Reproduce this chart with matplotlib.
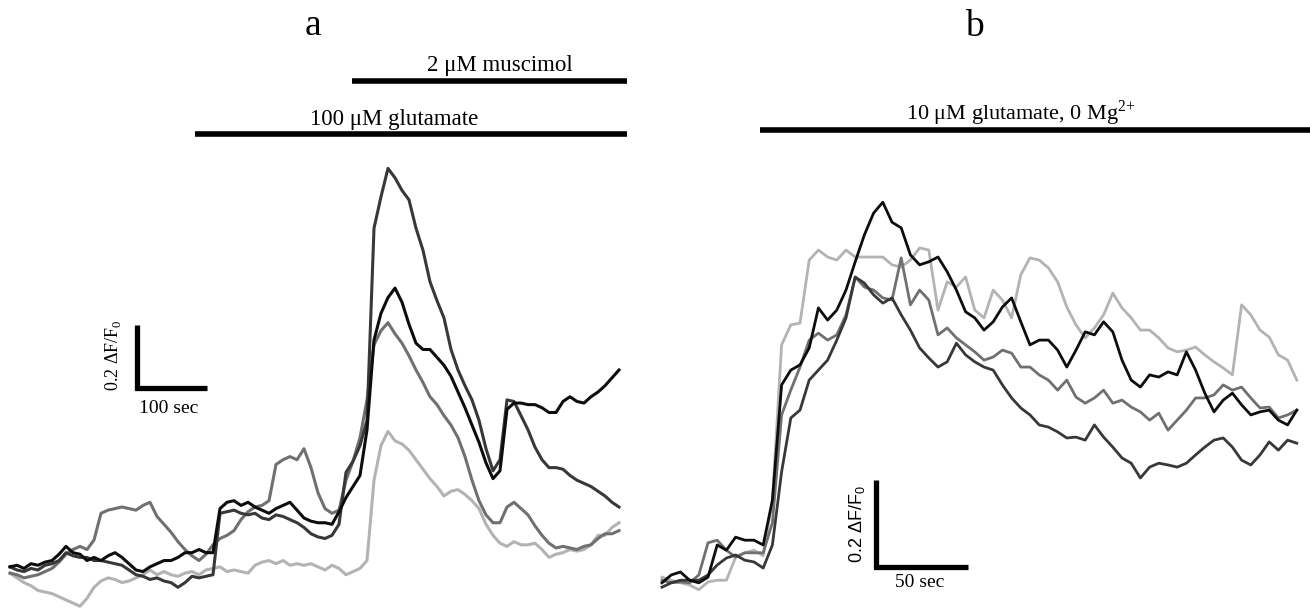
import matplotlib
matplotlib.use("Agg")
import matplotlib.pyplot as plt
import numpy as np

DT_A = 10.0
DT_B = 5.0

# panel a: dF/F0 traces, 100 uM glutamate then 2 uM muscimol
a_light = [-0.01, -0.025, -0.04, -0.05, -0.065, -0.07, -0.075, -0.085, -0.095, -0.105,
           -0.115, -0.09, -0.055, -0.035, -0.025, -0.03, -0.04, -0.035, -0.025, -0.015,
           0.0, -0.015, -0.005, -0.015, -0.02, -0.01, -0.005, -0.015, 0.0, 0.005,
           0.01, -0.005, 0.0, -0.005, -0.01, 0.015, 0.025, 0.03, 0.02, 0.03,
           0.015, 0.02, 0.015, 0.02, 0.01, 0.0, 0.015, 0.005, -0.015, -0.005,
           0.005, 0.03, 0.285, 0.395, 0.44, 0.41, 0.40, 0.38, 0.35, 0.32,
           0.29, 0.265, 0.235, 0.25, 0.255, 0.24, 0.22, 0.195, 0.145, 0.11,
           0.085, 0.075, 0.09, 0.08, 0.08, 0.085, 0.065, 0.04, 0.05, 0.055,
           0.065, 0.06, 0.065, 0.08, 0.11, 0.11, 0.135, 0.15]
a_mid = [-0.01, -0.015, -0.025, -0.02, -0.015, -0.005, 0.005, 0.025, 0.05, 0.065,
         0.075, 0.065, 0.095, 0.18, 0.19, 0.195, 0.20, 0.195, 0.19, 0.205,
         0.215, 0.17, 0.145, 0.12, 0.09, 0.065, 0.045, 0.03, 0.05, 0.08,
         0.10, 0.11, 0.125, 0.16, 0.185, 0.20, 0.205, 0.22, 0.335, 0.35,
         0.36, 0.35, 0.385, 0.325, 0.245, 0.195, 0.18, 0.19, 0.285, 0.345,
         0.42, 0.54, 0.715, 0.76, 0.785, 0.75, 0.72, 0.68, 0.635, 0.595,
         0.55, 0.525, 0.49, 0.46, 0.42, 0.36, 0.285, 0.22, 0.175, 0.15,
         0.15, 0.20, 0.215, 0.195, 0.175, 0.14, 0.11, 0.085, 0.07, 0.075,
         0.07, 0.065, 0.075, 0.08, 0.10, 0.115, 0.115, 0.125]
a_dark = [0.01, 0.0, -0.005, 0.005, 0.0, 0.015, 0.02, 0.03, 0.055, 0.045,
          0.04, 0.04, 0.03, 0.03, 0.025, 0.02, 0.015, 0.0, -0.015, -0.02,
          -0.03, -0.025, -0.035, -0.04, -0.055, -0.04, -0.02, -0.025, -0.02, -0.015,
          0.18, 0.185, 0.19, 0.18, 0.175, 0.18, 0.165, 0.16, 0.175, 0.17,
          0.16, 0.15, 0.135, 0.115, 0.105, 0.10, 0.11, 0.145, 0.31, 0.345,
          0.395, 0.475, 1.085, 1.185, 1.275, 1.245, 1.205, 1.175, 1.085, 1.015,
          0.915, 0.855, 0.80, 0.70, 0.635, 0.585, 0.54, 0.475, 0.385, 0.315,
          0.35, 0.54, 0.535, 0.49, 0.445, 0.39, 0.35, 0.325, 0.325, 0.32,
          0.30, 0.285, 0.275, 0.265, 0.25, 0.235, 0.215, 0.20]
a_black = [0.01, 0.015, 0.005, 0.02, 0.015, 0.025, 0.03, 0.05, 0.075, 0.055,
           0.05, 0.03, 0.04, 0.03, 0.045, 0.055, 0.04, 0.02, 0.0, -0.005,
           0.01, 0.02, 0.03, 0.03, 0.04, 0.055, 0.055, 0.065, 0.055, 0.055,
           0.195, 0.215, 0.22, 0.205, 0.215, 0.20, 0.19, 0.18, 0.195, 0.205,
           0.215, 0.19, 0.165, 0.155, 0.15, 0.15, 0.145, 0.185, 0.23, 0.265,
           0.30, 0.445, 0.73, 0.815, 0.865, 0.895, 0.85, 0.78, 0.72, 0.70,
           0.70, 0.675, 0.65, 0.615, 0.565, 0.515, 0.46, 0.405, 0.34, 0.29,
           0.315, 0.51, 0.53, 0.53, 0.525, 0.525, 0.515, 0.50, 0.50, 0.535,
           0.55, 0.535, 0.53, 0.55, 0.565, 0.585, 0.61, 0.635]

# panel b: dF/F0 traces, 10 uM glutamate, 0 Mg2+
b_light = [0.018, 0.011, 0.005, 0.0, -0.011, 0.007, 0.011, 0.011, 0.064, 0.074,
           0.08, 0.067, 0.195, 0.552, 0.598, 0.602, 0.747, 0.77, 0.754, 0.747,
           0.77, 0.754, 0.754, 0.754, 0.754, 0.736, 0.731, 0.747, 0.775, 0.77,
           0.632, 0.697, 0.685, 0.708, 0.632, 0.614, 0.678, 0.655, 0.614, 0.713,
           0.752, 0.747, 0.729, 0.697, 0.639, 0.598, 0.568, 0.591, 0.621, 0.671,
           0.637, 0.614, 0.586, 0.586, 0.568, 0.545, 0.536, 0.54, 0.547, 0.529,
           0.513, 0.499, 0.483, 0.644, 0.621, 0.586, 0.57, 0.529, 0.517, 0.471]
b_mid = [0.011, 0.005, 0.007, 0.005, 0.023, 0.097, 0.103, 0.08, 0.064, 0.074,
         0.074, 0.074, 0.143, 0.391, 0.448, 0.501, 0.563, 0.579, 0.563, 0.575,
         0.621, 0.708, 0.685, 0.678, 0.66, 0.655, 0.752, 0.644, 0.678, 0.655,
         0.575, 0.591, 0.568, 0.552, 0.536, 0.517, 0.524, 0.54, 0.533, 0.501,
         0.501, 0.483, 0.471, 0.448, 0.471, 0.432, 0.418, 0.43, 0.448, 0.418,
         0.425, 0.409, 0.398, 0.379, 0.395, 0.356, 0.379, 0.402, 0.43, 0.43,
         0.437, 0.46, 0.448, 0.455, 0.43, 0.407, 0.409, 0.384, 0.391, 0.402]
b_dark = [-0.005, 0.005, 0.011, 0.011, 0.011, 0.023, 0.046, 0.062, 0.069, 0.057,
          0.053, 0.039, 0.092, 0.26, 0.384, 0.402, 0.471, 0.494, 0.517, 0.563,
          0.614, 0.708, 0.694, 0.667, 0.648, 0.66, 0.621, 0.586, 0.545, 0.522,
          0.501, 0.513, 0.556, 0.529, 0.513, 0.501, 0.494, 0.46, 0.43, 0.407,
          0.391, 0.368, 0.363, 0.352, 0.338, 0.34, 0.333, 0.368, 0.34, 0.317,
          0.292, 0.28, 0.246, 0.271, 0.28, 0.276, 0.271, 0.28, 0.299, 0.317,
          0.333, 0.338, 0.317, 0.287, 0.276, 0.299, 0.329, 0.31, 0.333, 0.326]
b_black = [0.005, 0.023, 0.03, 0.011, 0.005, 0.018, 0.092, 0.08, 0.11, 0.103,
           0.103, 0.092, 0.195, 0.46, 0.494, 0.506, 0.545, 0.637, 0.609, 0.632,
           0.678, 0.743, 0.805, 0.855, 0.88, 0.834, 0.821, 0.759, 0.736, 0.743,
           0.754, 0.72, 0.678, 0.628, 0.614, 0.586, 0.605, 0.639, 0.66, 0.605,
           0.552, 0.563, 0.563, 0.54, 0.501, 0.54, 0.582, 0.575, 0.605, 0.582,
           0.517, 0.471, 0.455, 0.483, 0.478, 0.49, 0.483, 0.536, 0.494, 0.441,
           0.398, 0.425, 0.441, 0.414, 0.391, 0.398, 0.402, 0.379, 0.368, 0.402]

# drug application periods (s)
glu_a = (264, 881)
musc_a = (489, 881)
glu_b = (53, 360)

colors = ["#b3b3b3", "#707070", "#383838", "#0d0d0d"]

plt.rcParams["font.family"] = ["Liberation Serif", "DejaVu Serif"]
plt.rcParams["mathtext.fontset"] = "custom"
plt.rcParams["mathtext.rm"] = "Liberation Serif"
plt.rcParams["mathtext.sf"] = "Liberation Sans"

fig = plt.figure(figsize=(13.1, 6.12), dpi=100)

# ---- panel a ----
ax = fig.add_axes([0, 0, 650 / 1310, 1])
ax.set_xlim(-10 / 0.7, 640 / 0.7)
ax.set_ylim(-42 / 315, 570 / 315)
ax.axis("off")

t_a = np.arange(len(a_black)) * DT_A
for vals, c in zip([a_light, a_mid, a_dark, a_black], colors):
    ax.plot(t_a, vals, color=c, lw=2.2)

ax.plot(glu_a, [1.384, 1.384], color="black", lw=4, solid_capstyle="butt")
ax.plot(musc_a, [1.551, 1.551], color="black", lw=4, solid_capstyle="butt")
ax.text(sum(glu_a) / 2 - 24, 1.413, "100 \u03bcM glutamate", ha="center", va="baseline", fontsize=16.5)
ax.text(sum(musc_a) / 2 + 15, 1.584, "2 \u03bcM muscimol", ha="center", va="baseline", fontsize=16.5)
ax.text(433, 1.727, "a", ha="center", va="center", fontsize=27)

# scale bar: 100 s, 0.2 dF/F0
ax.plot([181.4, 181.4, 281.4], [0.778, 0.578, 0.578], color="black", lw=3.8,
        solid_joinstyle="miter", solid_capstyle="butt")
ax.text(147, 0.683, "0.2 \u0394F/F$_0$", rotation=90, ha="center", va="center", fontsize=13)
ax.text(226, 0.514, "100 sec", ha="center", va="center", fontsize=14)

# ---- panel b ----
bx = fig.add_axes([655 / 1310, 0, 655 / 1310, 1])
bx.set_xlim(-7 / 1.84, 648 / 1.84)
bx.set_ylim(-27 / 435, 585 / 435)
bx.axis("off")

t_b = np.arange(len(b_black)) * DT_B
for vals, c in zip([b_light, b_mid, b_dark, b_black], colors):
    bx.plot(t_b, vals, color=c, lw=2.0)

bx.plot(glu_b, [1.046, 1.046], color="black", lw=4, solid_capstyle="butt")
bx.text(195, 1.069, "10 \u03bcM glutamate, 0 Mg$^{2{+}}$", ha="center", va="baseline", fontsize=16)
bx.text(170, 1.283, "b", ha="center", va="center", fontsize=27)

# scale bar: 50 s, 0.2 dF/F0
bx.plot([116.3, 116.3, 166.3], [0.241, 0.041, 0.041], color="black", lw=3.8,
        solid_joinstyle="miter", solid_capstyle="butt")
bx.text(106, 0.141, "0.2 \u0394F/F$_\\mathsf{0}$", rotation=90, ha="center", va="center",
        fontsize=13, family=["Liberation Sans", "DejaVu Sans"])
bx.text(140, 0.005, "50 sec", ha="center", va="center", fontsize=14)

fig.savefig("out.png", dpi=100)
